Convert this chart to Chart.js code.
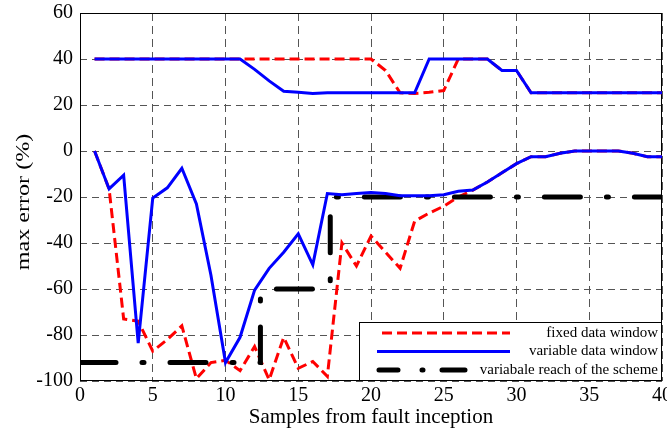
<!DOCTYPE html>
<html lang="en">
<head>
  <meta charset="UTF-8" />
  <title>max error vs samples</title>
  <script src="https://cdn.jsdelivr.net/npm/chart.js"></script>
  <style>
    body { margin: 0; background: #fff; }
    #wrap { width: 667px; height: 434px; }
  </style>
</head>
<body>
  <div id="wrap"><canvas id="errChart"></canvas></div>

  <script>
    // samples from fault inception
    const samples = [1,2,3,4,5,6,7,8,9,10,11,12,13,14,15,16,17,18,19,20,
                     21,22,23,24,25,26,27,28,29,30,31,32,33,34,35,36,37,38,39,40];

    // fixed data window (upper and lower curves)
    const fixedUpper = [40,40,40,40,40,40,40,40,40,40,40,40,40,40,40,40,40,40,40,40,
                        35,25.3,25,25.5,26.3,40,40,40,35,35,25.3,25.3,25.3,25.3,25.3,25.3,25.3,25.3,25.3,25.3];
    const fixedLower = [0,-16.5,-73,-74,-87,-82,-76,-99,-92,-91,-95.5,-85,-99.5,-81,-94.5,-91.5,-98,-40,-50,-37,
                        -44,-51,-30.5,-27,-24,-20,-17,-13.5,-9.5,-5.5,-2.5,-2.5,-1,0,0,0,0,-1,-2.5,-2.5];

    // variable data window (upper and lower curves)
    const variableUpper = [40,40,40,40,40,40,40,40,40,40,40,35.5,30.5,26,25.5,25,25.3,25.3,25.3,25.3,
                           25.3,25.3,25.3,40,40,40,40,40,35,35,25.3,25.3,25.3,25.3,25.3,25.3,25.3,25.3,25.3,25.3];
    const variableLower = [0,-16.5,-10.5,-83.5,-20.5,-16,-7.5,-23,-54,-92,-81,-60.5,-51,-44,-36,-49.5,-18.5,-19,-18.5,-18,
                           -18.5,-19.5,-19.5,-19.5,-19,-17.5,-17,-13.5,-9.5,-5.5,-2.5,-2.5,-1,0,0,0,0,-1,-2.5,-2.5];

    // variable reach of the scheme (step line)
    const reachX = [0, 12.4, 12.4, 17.2, 17.2, 40];
    const reachY = [-92, -92, -60, -60, -20, -20];

    const xTicks = [0,5,10,15,20,25,30,35,40];
    const yTicks = [-100,-80,-60,-40,-20,0,20,40,60];

    const legendItems = ['fixed data window', 'variable data window', 'variabale reach of the scheme'];
    const yTitle = 'max error (%)';
    const xTitle = 'Samples from fault inception';

    const pts = (xs, ys) => xs.map((x, i) => ({ x: x, y: ys[i] }));

    const RED = '#ff0000', BLUE = '#0000ff', BLACK = '#000000';
    const redStyle = { borderColor: RED, borderWidth: 3, borderDash: [10, 5] };
    const blueStyle = { borderColor: BLUE, borderWidth: 3 };
    const blackStyle = { borderColor: BLACK, borderWidth: 5, borderDash: [36, 26, 2, 26], borderCapStyle: 'round' };

    const frame = {
      id: 'frame',
      beforeDatasetsDraw(chart) {
        const a = chart.chartArea, c = chart.ctx;
        c.save();
        c.strokeStyle = '#000';
        c.lineWidth = 1;
        c.strokeRect(a.left + 0.5, a.top + 0.5, a.right - a.left - 1, a.bottom - a.top - 1);
        c.restore();
      }
    };

    // y title is stretched along its length, as in the original figure
    const yLabel = {
      id: 'yLabel',
      afterDraw(chart) {
        const a = chart.chartArea, c = chart.ctx;
        c.save();
        c.translate(24, (a.top + a.bottom) / 2 + 5);
        c.rotate(-Math.PI / 2);
        c.scale(1.34, 1);
        c.fillStyle = '#000';
        c.font = '18px "Liberation Serif"';
        c.textAlign = 'center';
        c.textBaseline = 'middle';
        c.fillText(yTitle, 0, 0);
        c.restore();
      }
    };

    // legend box in the lower right corner of the plot
    const boxLegend = {
      id: 'boxLegend',
      afterDraw(chart) {
        const a = chart.chartArea, c = chart.ctx;
        const rows = [
          { s: redStyle, x0: 23, x1: 151, dash: [10, 5] },
          { s: blueStyle, x0: 18, x1: 151, dash: [] },
          { s: blackStyle, x0: 20, x1: 106, dash: [19, 24, 1, 19, 23, 100] }
        ];
        const w = 303, h = 59;
        const left = a.right - w, top = a.bottom - h;
        c.save();
        c.fillStyle = '#fff';
        c.fillRect(left, top, w, h);
        c.strokeStyle = '#000';
        c.lineWidth = 1;
        c.strokeRect(left + 0.5, top + 0.5, w - 1, h - 1);
        legendItems.forEach((txt, i) => {
          const y = top + 11 + i * 18.5;
          const r = rows[i];
          c.beginPath();
          c.strokeStyle = r.s.borderColor;
          c.lineWidth = r.s.borderWidth;
          c.lineCap = r.s.borderCapStyle || 'butt';
          c.setLineDash(r.dash);
          c.moveTo(left + r.x0, y);
          c.lineTo(left + r.x1, y);
          c.stroke();
          c.setLineDash([]);
          c.fillStyle = '#000';
          c.font = '15px "Liberation Serif"';
          c.textAlign = 'right';
          c.textBaseline = 'middle';
          c.fillText(txt, left + w - 4, y);
        });
        c.restore();
      }
    };

    const ctx = document.getElementById('errChart').getContext('2d');

    new Chart(ctx, {
      type: 'line',
      data: {
        datasets: [
          Object.assign({ label: legendItems[1], data: pts(samples, variableUpper) }, blueStyle),
          Object.assign({ label: legendItems[1], data: pts(samples, variableLower) }, blueStyle),
          Object.assign({ label: legendItems[2], data: pts(reachX, reachY) }, blackStyle),
          Object.assign({ label: legendItems[0], data: pts(samples, fixedUpper) }, redStyle),
          Object.assign({ label: legendItems[0], data: pts(samples, fixedLower) }, redStyle)
        ]
      },
      options: {
        responsive: true,
        maintainAspectRatio: false,
        animation: false,
        elements: {
          point: { radius: 0, hoverRadius: 0 },
          line: { tension: 0, fill: false }
        },
        layout: { padding: { top: 13, right: 5, left: 0, bottom: 0 } },
        plugins: {
          legend: { display: false },
          tooltip: { enabled: false }
        },
        scales: {
          x: {
            type: 'linear',
            min: 0, max: 40,
            afterFit(s) { s.height = 53; s.paddingLeft = 0; s.paddingRight = 0; },
            afterBuildTicks(s) { s.ticks = xTicks.map(v => ({ value: v })); },
            ticks: { color: '#000', padding: 3, font: { family: 'Liberation Serif', size: 20 } },
            grid: { color: '#555', lineWidth: 1, drawTicks: false },
            border: { display: false, dash: [8, 5] },
            title: {
              display: true, text: xTitle, color: '#000',
              font: { family: 'Liberation Serif', size: 21 }, padding: { top: 0, bottom: 4 }
            }
          },
          y: {
            min: -100, max: 60,
            afterFit(s) { s.width = 80; s.paddingTop = 0; s.paddingBottom = 0; },
            afterBuildTicks(s) { s.ticks = yTicks.map(v => ({ value: v })); },
            ticks: { color: '#000', padding: 7, font: { family: 'Liberation Serif', size: 20 } },
            grid: { color: '#555', lineWidth: 1, drawTicks: false },
            border: { display: false, dash: [7, 5] },
            title: { display: false }
          }
        }
      },
      plugins: [frame, yLabel, boxLegend]
    });
  </script>
</body>
</html>
